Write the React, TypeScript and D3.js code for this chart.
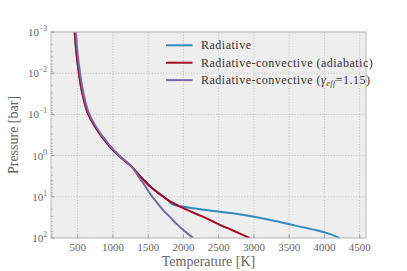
import * as d3 from "d3";
import React from "react";

// log10 pressure levels [bar]
const logP = [-3, -2.5, -2, -1.5, -1, -0.5, 0, 0.25, 0.5, 0.75, 1, 1.1, 1.2, 1.3, 1.4, 1.5, 1.6, 1.7, 1.8, 1.9, 2];

const tRadiative = [458, 482, 518, 568, 652, 825, 1080, 1255, 1385, 1530, 1717, 1790, 1870, 2240, 2700, 3060, 3340, 3590, 3860, 4070, 4213];
const tAdiabatic = [458, 482, 518, 568, 652, 825, 1080, 1255, 1385, 1530, 1717, 1800, 1910, 2030, 2160, 2300, 2420, 2540, 2680, 2810, 2939];
const tGamma = [474, 498, 534, 584, 667, 840, 1090, 1255, 1360, 1460, 1560, 1605, 1655, 1700, 1755, 1815, 1870, 1930, 1995, 2065, 2140];

const seriesNames = ["Radiative", "Radiative-convective (adiabatic)", "Radiative-convective (γeff=1.15)"];
const colors = ["#348ABD", "#A60628", "#7A68A6"];

const xTicks = [500, 1000, 1500, 2000, 2500, 3000, 3500, 4000, 4500];
const yExps = [-3, -2, -1, 0, 1, 2];

const W = 407;
const H = 271;
const margin = { top: 32, right: 41, bottom: 33, left: 51 };

export default function App() {
  const iw = W - margin.left - margin.right;
  const ih = H - margin.top - margin.bottom;
  const x = d3.scaleLinear().domain([122, 4590]).range([0, iw]);
  const y = d3.scaleLog().domain([1e-3, 1e2]).range([0, ih]);

  const line = d3
    .line<[number, number]>()
    .x((d) => x(d[0]))
    .y((d) => y(Math.pow(10, d[1])))
    .curve(d3.curveMonotoneY);

  const all = [tRadiative, tAdiabatic, tGamma];
  const minor: number[] = [];
  for (let e = -3; e < 2; e++) for (let k = 2; k < 10; k++) minor.push(k * Math.pow(10, e));

  const font = "'Liberation Serif', 'DejaVu Serif', serif";
  const grey = "#666";

  return (
    <svg width={W} height={H} style={{ position: "absolute", left: 0, top: 0 }} fontFamily={font}>
      <g transform={`translate(${margin.left},${margin.top})`}>
        <rect width={iw} height={ih} fill="#eeeeee" />
        {xTicks.map((t) => (
          <line key={"gx" + t} x1={x(t)} x2={x(t)} y1={0} y2={ih} stroke="#b2b2b2" strokeWidth={0.7} strokeDasharray="1.2,1.6" />
        ))}
        {yExps.map((e) => (
          <line key={"gy" + e} x1={0} x2={iw} y1={y(Math.pow(10, e))} y2={y(Math.pow(10, e))} stroke="#b2b2b2" strokeWidth={0.7} strokeDasharray="1.2,1.6" />
        ))}
        <defs>
          <clipPath id="clip">
            <rect width={iw} height={ih} />
          </clipPath>
        </defs>
        <g clipPath="url(#clip)">
          {all.map((ts, i) => (
            <path
              key={i}
              d={line(ts.map((t, j) => [t, logP[j]] as [number, number])) || ""}
              fill="none"
              stroke={colors[i]}
              strokeWidth={2}
            />
          ))}
        </g>
        <rect width={iw} height={ih} fill="none" stroke="#bcbcbc" strokeWidth={1} />
        {xTicks.map((t) => (
          <g key={"tx" + t}>
            <line x1={x(t)} x2={x(t)} y1={ih} y2={ih - 3.5} stroke="#999" />
            <text x={x(t)} y={ih + 13} textAnchor="middle" fontSize={11} fill={grey}>
              {t}
            </text>
          </g>
        ))}
        {yExps.map((e) => (
          <g key={"ty" + e}>
            <line x1={0} x2={3.5} y1={y(Math.pow(10, e))} y2={y(Math.pow(10, e))} stroke="#999" />
            <text x={-4} y={y(Math.pow(10, e)) + 4} textAnchor="end" fontSize={11} fill={grey}>
              10
              <tspan dy={-5} fontSize={7.5}>
                {e < 0 ? "\u2212" + Math.abs(e) : e}
              </tspan>
            </text>
          </g>
        ))}
        {minor.map((m, i) => (
          <line key={"m" + i} x1={0} x2={2} y1={y(m)} y2={y(m)} stroke="#999" strokeWidth={0.6} />
        ))}
        <text x={iw / 2} y={ih + 28} textAnchor="middle" fontSize={14} fill={grey}>
          Temperature [K]
        </text>
        <text transform={`translate(${-33},${ih / 2}) rotate(-90)`} textAnchor="middle" fontSize={14} fill={grey}>
          Pressure [bar]
        </text>
        {seriesNames.map((n, i) => (
          <g key={"l" + i} transform={`translate(115,${13.3 + i * 17.4})`}>
            <line x1={0} x2={26.5} y1={0} y2={0} stroke={colors[i]} strokeWidth={2} />
            <text x={35} y={4} fontSize={12} letterSpacing={0.5} fill="#333">
              {i < 2 ? (
                n
              ) : (
                <>
                  Radiative-convective (<tspan fontStyle="italic">γ</tspan>
                  <tspan fontSize={8} dy={2} fontStyle="italic">eff</tspan>
                  <tspan dy={-2}>=1.15)</tspan>
                </>
              )}
            </text>
          </g>
        ))}
      </g>
    </svg>
  );
}
